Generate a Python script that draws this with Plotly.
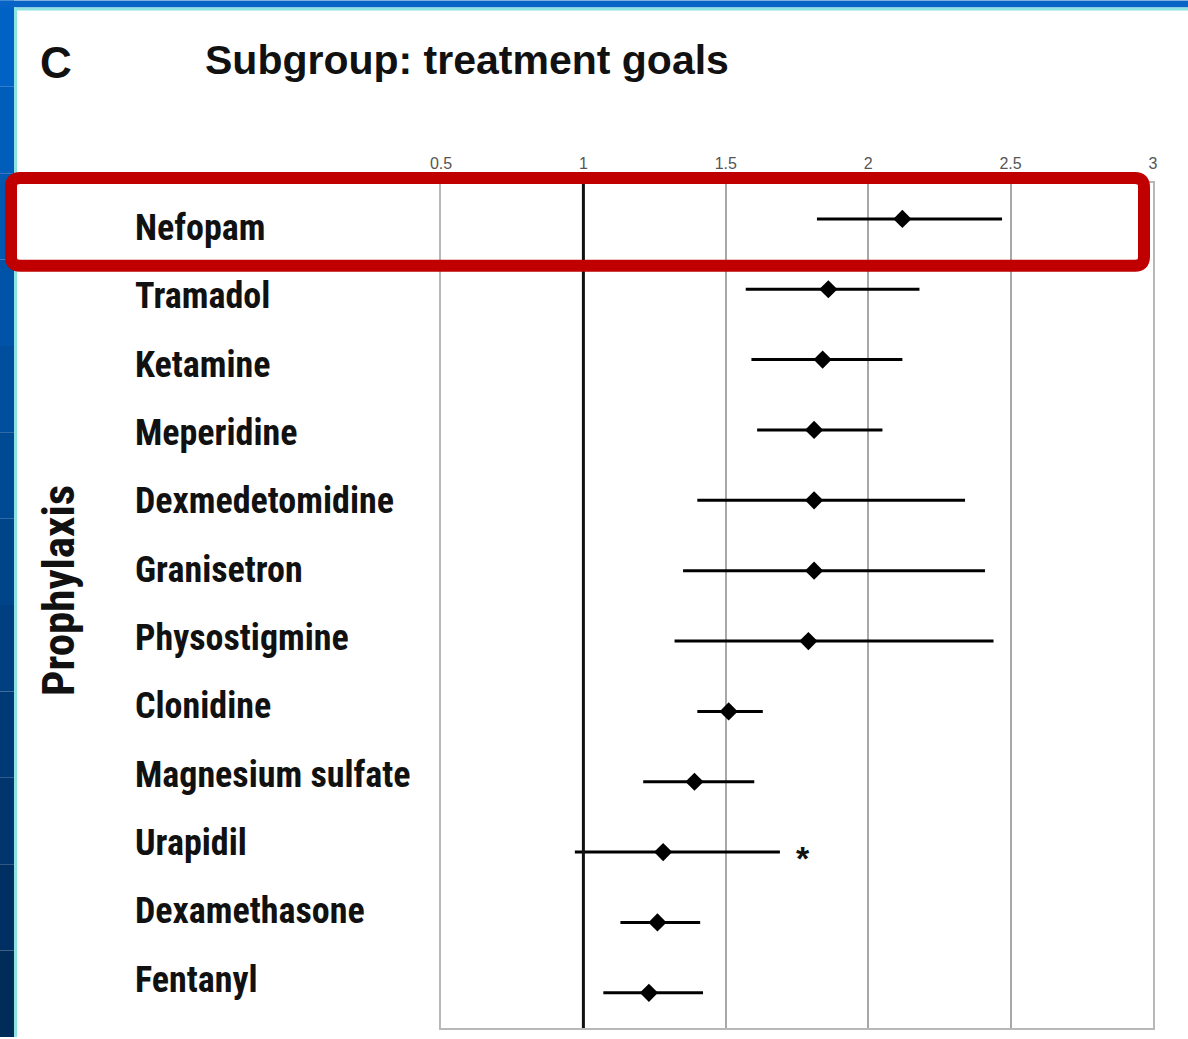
import plotly.graph_objects as go

drugs = ["Nefopam", "Tramadol", "Ketamine", "Meperidine", "Dexmedetomidine",
         "Granisetron", "Physostigmine", "Clonidine", "Magnesium sulfate",
         "Urapidil", "Dexamethasone", "Fentanyl"]
estimate = [2.12, 1.86, 1.84, 1.81, 1.81, 1.81, 1.79, 1.51, 1.39, 1.28, 1.26, 1.23]
ci_low = [1.82, 1.57, 1.59, 1.61, 1.40, 1.35, 1.32, 1.40, 1.21, 0.97, 1.13, 1.07]
ci_high = [2.47, 2.18, 2.12, 2.05, 2.34, 2.41, 2.44, 1.63, 1.60, 1.69, 1.41, 1.42]
significant = [False, False, False, False, False, False, False, False, False, True, False, False]
x_ticks = [0.5, 1, 1.5, 2, 2.5, 3]
x_tick_labels = ["0.5", "1", "1.5", "2", "2.5", "3"]

W, H = 1188, 1039
ML, MR, MT, MB = 441, 35, 183, 9
PW, PH = W - ML - MR, H - MT - MB


def px(xpix):
    return (xpix - ML) / PW


def py(ypix):
    return (H - MB - ypix) / PH


rows = list(range(len(drugs)))

fig = go.Figure()
fig.add_trace(go.Scatter(
    x=estimate, y=rows, mode="markers",
    marker=dict(symbol="diamond", size=14, color="black"),
    error_x=dict(type="data", symmetric=False,
                 array=[h - e for h, e in zip(ci_high, estimate)],
                 arrayminus=[e - l for e, l in zip(estimate, ci_low)],
                 color="black", thickness=3, width=0),
    showlegend=False, hoverinfo="skip",
))

NARROW = "Roboto Condensed, Archivo Narrow, Liberation Sans Narrow, Arial Narrow, sans-serif"
annotations = []
label_font = dict(family=NARROW, size=36, color="#111")
for i, d in enumerate(drugs):
    annotations.append(dict(
        x=px(133), xref="paper", y=i, yref="y", text="<b>%s</b>" % d,
        showarrow=False, xanchor="left", yanchor="middle",
        yshift=-9 + 2.0 * i, font=label_font))
    if significant[i]:
        annotations.append(dict(
            x=ci_high[i], y=i, xref="x", yref="y", text="<b>*</b>",
            showarrow=False, xanchor="left", yanchor="middle",
            xshift=14, yshift=-6,
            font=dict(family="Liberation Sans, Arial", size=34, color="#111")))

annotations += [
    dict(x=px(38), y=py(62), xref="paper", yref="paper", text="<b>C</b>",
         showarrow=False, xanchor="left", yanchor="middle",
         font=dict(family="Liberation Sans, Arial", size=44, color="#111")),
    dict(x=px(203), y=py(60), xref="paper", yref="paper", text="<b>Subgroup: treatment goals</b>",
         showarrow=False, xanchor="left", yanchor="middle",
         font=dict(family="Liberation Sans, Arial", size=41, color="#111")),
    dict(x=px(58), y=py(592), xref="paper", yref="paper", text="<b>Prophylaxis</b>",
         showarrow=False, xanchor="center", yanchor="middle", textangle=-90,
         font=dict(family=NARROW, size=45, color="#111")),
]

shapes = []
# blue slide frame (left strip gradient + top band)
n_seg = 12
for k in range(n_seg):
    t = k / (n_seg - 1)
    g = int(0x62 - t * (0x62 - 0x2c))
    b = int(0xc4 - t * (0xc4 - 0x5a))
    y0 = k * H / n_seg
    y1 = (k + 1) * H / n_seg
    shapes.append(dict(type="rect", xref="paper", yref="paper",
                       x0=px(0), x1=px(14), y0=py(y1), y1=py(y0),
                       fillcolor="rgb(0,%d,%d)" % (g, b), line=dict(width=0), layer="above"))
shapes.append(dict(type="rect", xref="paper", yref="paper", x0=px(0), x1=px(W), y0=py(7), y1=py(0),
                   fillcolor="#0764c6", line=dict(width=0), layer="above"))
shapes.append(dict(type="rect", xref="paper", yref="paper", x0=px(14), x1=px(W), y0=py(10), y1=py(7),
                   fillcolor="#8fe2e2", line=dict(width=0), layer="above"))
shapes.append(dict(type="rect", xref="paper", yref="paper", x0=px(14), x1=px(17), y0=py(H), y1=py(7),
                   fillcolor="#8fe2e2", line=dict(width=0), layer="above"))

# reference line at 1
shapes.append(dict(type="line", xref="x", yref="paper", x0=1, x1=1, y0=0, y1=1,
                   line=dict(color="#111", width=3), layer="above"))

# red highlight box around first row (rounded rectangle)
x0, x1, y0, y1, rr = 11, 1144, 178, 266, 9
path = ("M {a},{b} L {c},{b} Q {d},{b} {d},{e} L {d},{f} Q {d},{g} {c},{g} "
        "L {a},{g} Q {h},{g} {h},{f} L {h},{e} Q {h},{b} {a},{b} Z").format(
    a=px(x0 + rr), b=py(y0), c=px(x1 - rr), d=px(x1), e=py(y0 + rr),
    f=py(y1 - rr), g=py(y1), h=px(x0))
shapes.append(dict(type="path", xref="paper", yref="paper", path=path,
                   line=dict(color="#c00000", width=12), layer="above"))

fig.update_layout(
    width=W, height=H,
    margin=dict(l=ML, r=MR, t=MT, b=MB),
    paper_bgcolor="white", plot_bgcolor="white",
    xaxis=dict(range=[0.5, 3], side="top", tickvals=x_ticks, ticktext=x_tick_labels,
               showgrid=True, gridcolor="#a8a8a8", gridwidth=2,
               showline=True, linecolor="#b8b8b8", linewidth=2, mirror=True,
               ticks="", zeroline=False, ticklabelstandoff=6,
               tickfont=dict(family="Liberation Sans, Arial", size=16, color="#555")),
    yaxis=dict(range=[11.5, -0.51], showticklabels=False, showgrid=False,
               showline=True, linecolor="#b8b8b8", linewidth=2, mirror=True,
               ticks="", zeroline=False),
    annotations=annotations, shapes=shapes,
)

fig.write_html("out.html", config={"displayModeBar": False},
               post_script="document.body.style.margin='0';document.body.style.overflow='hidden';")
